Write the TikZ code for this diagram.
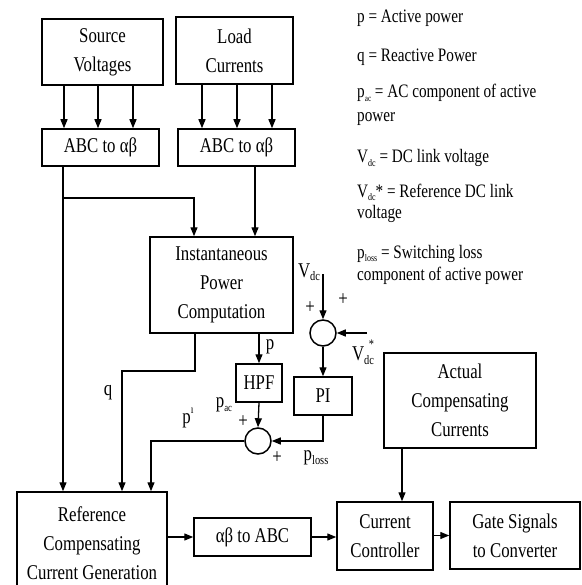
\documentclass[tikz,border=0pt]{standalone}
\usepackage{fontspec}
\setmainfont{Liberation Serif}[FakeStretch=0.8]
\usetikzlibrary{arrows.meta}
\newcommand\bfnt{\fontsize{21}{29}\selectfont}
\newcommand\lfnt{\fontsize{19}{22}\selectfont}
\newcommand\sbs[2]{\raisebox{-0.35ex}{\fontsize{#1}{#1}\selectfont #2}}
\tikzset{
  blk/.style={draw, line width=1.5pt, align=center, inner sep=0pt, font=\bfnt},
  sumc/.style={draw, circle, line width=1.5pt, minimum size=26pt, inner sep=0pt},
  arr/.style={line width=1.3pt, -{Triangle[length=9pt,width=7pt]}},
  ln/.style={line width=1.3pt},
  lbl/.style={font=\bfnt, inner sep=0pt},
  leg/.style={font=\lfnt, inner sep=0pt, anchor=base west}
}
\begin{document}
\begin{tikzpicture}[x=1pt,y=-1pt]
\useasboundingbox (0,0) rectangle (581,585);
\clip (0,0) rectangle (581,585);
% blocks
\node[blk, minimum width=121, minimum height=66] (src) at (102.5,52) {Source\\Voltages};
\node[blk, minimum width=117, minimum height=67] (load) at (234.5,50.5) {Load\\Currents};
\node[blk, minimum width=117, minimum height=37] (abc1) at (100.5,147.5) {ABC to αβ};
\node[blk, minimum width=117, minimum height=37] (abc2) at (236.5,147.5) {ABC to αβ};
\node[blk, minimum width=143, minimum height=96] (ipc) at (221.5,285) {Instantaneous\\Power\\Computation};
\node[blk, minimum width=46, minimum height=38] (hpf) at (259,383) {HPF};
\node[blk, minimum width=58, minimum height=38] (pi) at (323,396) {PI};
\node[sumc] (sum1) at (323,333) {};
\node[sumc] (sum2) at (258,441) {};
\node[blk, minimum width=152, minimum height=95] (acc) at (460,400.5) {Actual\\Compensating\\Currents};
\node[blk, minimum width=150, minimum height=102] (ref) at (92,543) {Reference\\Compensating\\Current Generation};
\node[blk, minimum width=117, minimum height=38] (ab) at (252.5,537) {αβ to ABC};
\node[blk, minimum width=96, minimum height=68] (cc) at (385,536) {Current\\Controller};
\node[blk, minimum width=130, minimum height=67] (gs) at (515,535.5) {Gate Signals\\to Converter};
% connectors
\foreach \dx in {-38.5,-4.5,30.5}
  \draw[arr] ([xshift=\dx]src.south) -- ([xshift=\dx]src.south |- abc1.north);
\foreach \dx in {-32.5,2.5,37.5}
  \draw[arr] ([xshift=\dx]load.south) -- ([xshift=\dx]load.south |- abc2.north);
\coordinate (j1) at (63,198);
\draw[ln] (abc1.south -| j1) -- (j1);
\draw[arr] (j1) -| ([xshift=-27.5]ipc.north);
\draw[arr] (j1) -- (j1 |- ref.north);
\draw[arr] ([xshift=18.5]abc2.south) -- ([xshift=18.5]abc2.south |- ipc.north);
\coordinate (qk) at (122,371);
\draw[arr] ([xshift=-26.5]ipc.south) |- (qk) -- (qk |- ref.north);
\draw[arr] (ipc.south -| hpf) -- (hpf.north);
\draw[arr] (hpf.south) -- (sum2.north);
\draw[arr] (pi.south) |- (sum2.east);
\draw[arr] (sum2.west) -| ([xshift=59]ref.north);
\coordinate (vdcin) at (323,274);
\draw[arr] (vdcin) -- (sum1.north);
\coordinate (vdcs) at (367,333);
\draw[arr] (vdcs) -- (sum1.east);
\draw[arr] (sum1.south) -- (pi.north);
\draw[arr] (ab.west -| ref.east) -- (ab.west);
\draw[arr] (ab.east) -- (ab.east -| cc.west);
\draw[arr] (cc.east |- gs.west) -- (gs.west);
\draw[arr] ([xshift=-58]acc.south) -- ([xshift=-58]acc.south |- cc.north);
% labels
\node[lbl] (lq) at (108,393) {q};
\node[lbl] (lp) at (270,347) {p};
\node[lbl] (lpac) at (224,405) {p\sbs{11}{ac}};
\node[lbl] (lpp) at (188,418) {p\raisebox{1.1ex}{\fontsize{12}{12}\selectfont ı}};
\node[lbl] (pl1) at (243,422) {+};
\node[lbl] (pl2) at (277,458) {+};
\node[lbl] (lploss) at (316,458) {p\sbs{13}{loss}};
\node[lbl] (lvdc) at (309,272) {V\sbs{13}{dc}};
\node[lbl] (pl3) at (310,308) {+};
\node[lbl] (pl4) at (343,300) {+};
\node[lbl] (lvdcs) at (363,352) {V\sbs{13}{dc}\llap{\raisebox{1.3ex}{\fontsize{13}{13}\selectfont *}}};
% legend
\node[leg] (g1) at (357,23) {p = Active power};
\node[leg] (g2) at (357,62) {q = Reactive Power};
\node[leg] (g3) at (357,98) {p\sbs{9}{ac} = AC component of active};
\node[leg] (g3b) at (357,122) {power};
\node[leg] (g4) at (357,163) {V\sbs{10}{dc} = DC link voltage};
\node[leg] (g5) at (357,197) {V\sbs{10}{dc}* = Reference DC link};
\node[leg] (g5b) at (357,218) {voltage};
\node[leg] (g6) at (357,258) {p\sbs{10}{loss} = Switching loss};
\node[leg] (g6b) at (357,280) {component of active power};
\end{tikzpicture}
\end{document}
